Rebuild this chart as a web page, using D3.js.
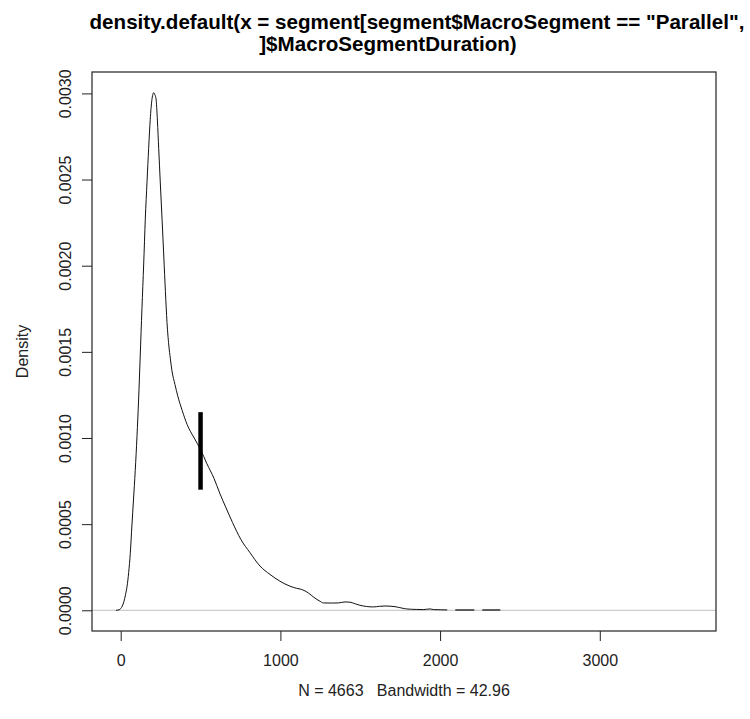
<!DOCTYPE html>
<html>
<head>
<meta charset="utf-8">
<script src="https://cdn.jsdelivr.net/npm/d3@7"></script>
<style>
  body { margin: 0; background: #fff; }
  svg { font-family: "Liberation Sans", Arial, sans-serif; }
</style>
</head>
<body>
<div id="chart"></div>
<script>
// density estimate
const densX = [-30, -10, 0, 10, 20, 30, 40, 50, 60, 70, 80, 91, 102, 112, 122, 133, 144, 154, 165, 175, 185, 195, 207,
  215, 221, 230, 238, 248, 259, 270, 280, 290, 301, 311, 321, 340, 357, 385, 416, 460, 500, 540, 584, 620, 657, 700,
  752, 810, 872, 935, 997, 1060, 1100, 1133, 1175, 1210, 1248, 1269, 1320, 1363, 1405, 1436, 1470, 1498, 1540, 1582,
  1620, 1655, 1718, 1760, 1791, 1850, 1895, 1937, 1960, 2000, 2045];
const densY = [0, 0.000003, 0.00001, 0.000025, 0.00005, 0.00009, 0.00014, 0.00022, 0.00033, 0.00049, 0.00064, 0.00081,
  0.00101, 0.00122, 0.00147, 0.00175, 0.00201, 0.00227, 0.00249, 0.00268, 0.00285, 0.00296, 0.003004,
  0.00299, 0.00297, 0.00284, 0.00268, 0.00248, 0.00227, 0.00205, 0.00185, 0.00167, 0.00154, 0.00146, 0.00139, 0.00131,
  0.001245, 0.00116, 0.001078, 0.00100, 0.000933, 0.00085, 0.000766, 0.00068, 0.0006, 0.00051,
  0.000412, 0.000334, 0.000257, 0.000208, 0.000169, 0.00014, 0.000128, 0.000121, 0.000101, 0.000075, 0.0000525,
  0.0000428, 0.000042, 0.0000428, 0.0000486, 0.000047, 0.000037, 0.0000292, 0.000022, 0.0000195,
  0.000023, 0.000025, 0.000021, 0.000013, 0.0000078, 0.000005, 0.000004, 0.000008, 0.000004, 0.000003, 0.000002];
// far tail, drawn broken like the original
const tailX = [2045, 2377];
const tailY = [0.000002, 0.000002];

// the short thick marker
const markX = 500;
const markY = [0.0007, 0.00115];

const xLim = [-35, 3583];
const yLim = [0, 0.003004];
const xTicks = [0, 1000, 2000, 3000];
const yTicks = [0, 0.0005, 0.001, 0.0015, 0.002, 0.0025, 0.003];

const titleLines = ['density.default(x = segment[segment$MacroSegment == "Parallel",', ']$MacroSegmentDuration)'];
const xLabel = "N = 4663   Bandwidth = 42.96";
const yLabel = "Density";

const W = 750, H = 719;
const plot = { left: 92, right: 716, top: 72, bottom: 631 };

// R style: pad 4% each side
const pad = (lim) => { const d = (lim[1] - lim[0]) * 0.04; return [lim[0] - d, lim[1] + d]; };

const x = d3.scaleLinear().domain(pad(xLim)).range([plot.left, plot.right]);
const y = d3.scaleLinear().domain(pad(yLim)).range([plot.bottom, plot.top]);

const svg = d3.select("#chart").append("svg")
    .attr("width", W)
    .attr("height", H);

svg.append("clipPath").attr("id", "clip")
  .append("rect")
    .attr("x", plot.left).attr("y", plot.top)
    .attr("width", plot.right - plot.left).attr("height", plot.bottom - plot.top);

// zero line
svg.append("line")
    .attr("x1", plot.left).attr("x2", plot.right)
    .attr("y1", y(0)).attr("y2", y(0))
    .attr("stroke", "#bebebe")
    .attr("stroke-width", 1);

const pts = densX.map((d, i) => [d, densY[i]]);
const line = d3.line().x(d => x(d[0])).y(d => y(d[1])).curve(d3.curveMonotoneX);

const g = svg.append("g").attr("clip-path", "url(#clip)");
g.append("path")
    .attr("d", line(pts))
    .attr("fill", "none")
    .attr("stroke", "#111")
    .attr("stroke-width", 1);

g.append("path")
    .attr("d", line(tailX.map((d, i) => [d, tailY[i]])))
    .attr("fill", "none")
    .attr("stroke", "#333")
    .attr("stroke-width", 1.5)
    .attr("stroke-dasharray", "19,8")
    .attr("stroke-dashoffset", 19);

g.append("line")
    .attr("x1", x(markX)).attr("x2", x(markX))
    .attr("y1", y(markY[0])).attr("y2", y(markY[1]))
    .attr("stroke", "#000")
    .attr("stroke-width", 4.5);

// box
svg.append("rect")
    .attr("x", plot.left).attr("y", plot.top)
    .attr("width", plot.right - plot.left).attr("height", plot.bottom - plot.top)
    .attr("fill", "none")
    .attr("stroke", "#222")
    .attr("stroke-width", 1.2);

// axes
const xAxis = svg.append("g")
    .attr("transform", `translate(0,${plot.bottom})`)
    .call(d3.axisBottom(x).tickValues(xTicks).tickSize(10).tickFormat(d3.format("d")));
xAxis.select(".domain").remove();
xAxis.selectAll(".tick line").attr("stroke", "#222");
xAxis.selectAll(".tick text")
    .attr("y", 24)
    .attr("dy", "0.71em")
    .style("font-size", "16px")
    .style("font-family", "Liberation Sans, Arial, sans-serif")
    .attr("fill", "#222");

const yAxis = svg.append("g")
    .attr("transform", `translate(${plot.left},0)`)
    .call(d3.axisLeft(y).tickValues(yTicks).tickSize(10).tickFormat(d3.format(".4f")));
yAxis.select(".domain").remove();
yAxis.selectAll(".tick line").attr("stroke", "#222");
yAxis.selectAll(".tick text")
    .attr("x", null).attr("dy", null)
    .attr("transform", "translate(-21,0) rotate(-90)")
    .attr("text-anchor", "middle")
    .style("font-size", "16px")
    .style("font-family", "Liberation Sans, Arial, sans-serif")
    .attr("fill", "#222");

// title, each line centred on its own like in the original
const titleX = [417, 388];
svg.append("g").selectAll("text")
    .data(titleLines)
    .join("text")
    .attr("x", (d, i) => titleX[i])
    .attr("y", (d, i) => 29 + i * 22)
    .attr("text-anchor", "middle")
    .style("font-size", "20.6px")
    .style("font-weight", "bold")
    .text(d => d);

svg.append("text")
    .attr("x", (plot.left + plot.right) / 2).attr("y", 696)
    .attr("text-anchor", "middle")
    .style("font-size", "16px")
    .attr("fill", "#222")
    .style("white-space", "pre")
    .text(xLabel);

svg.append("text")
    .attr("transform", `translate(28,${(plot.top + plot.bottom) / 2}) rotate(-90)`)
    .attr("text-anchor", "middle")
    .style("font-size", "16px")
    .attr("fill", "#222")
    .text(yLabel);
</script>
</body>
</html>
